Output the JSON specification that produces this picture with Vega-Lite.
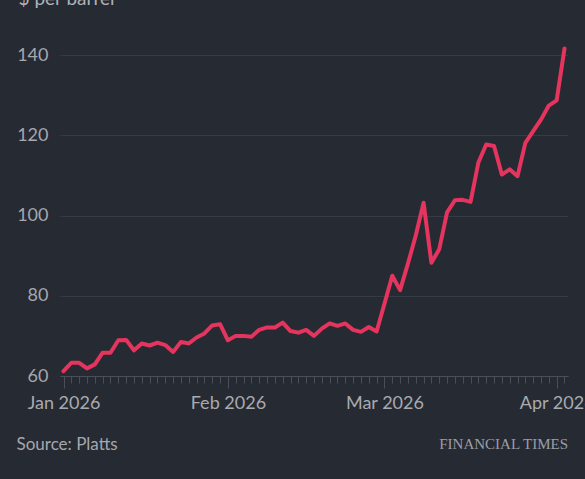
{
  "$schema": "https://vega.github.io/schema/vega-lite/v6.json",
  "width": 508,
  "height": 321,
  "autosize": {"type": "none"},
  "padding": {"left": 60, "top": 55, "right": 17, "bottom": 103},
  "background": "#262a33",
  "title": {
    "text": "FINANCIAL TIMES",
    "orient": "bottom",
    "anchor": "end",
    "frame": "group",
    "font": "Liberation Serif",
    "fontSize": 15,
    "fontWeight": "normal",
    "color": "#9c9ea5",
    "offset": -15
  },
  "config": {"view": {"stroke": null}, "font": "Lato"},
  "data": {
    "values": [
      {"date": "2026-01-02", "price": 61.2},
      {"date": "2026-01-05", "price": 63.3},
      {"date": "2026-01-06", "price": 63.3},
      {"date": "2026-01-07", "price": 61.9},
      {"date": "2026-01-08", "price": 62.9},
      {"date": "2026-01-09", "price": 65.8},
      {"date": "2026-01-12", "price": 65.8},
      {"date": "2026-01-13", "price": 68.9},
      {"date": "2026-01-14", "price": 69.0},
      {"date": "2026-01-15", "price": 66.4},
      {"date": "2026-01-16", "price": 68.1},
      {"date": "2026-01-19", "price": 67.6},
      {"date": "2026-01-20", "price": 68.3},
      {"date": "2026-01-21", "price": 67.7},
      {"date": "2026-01-22", "price": 66.0},
      {"date": "2026-01-23", "price": 68.5},
      {"date": "2026-01-26", "price": 68.1},
      {"date": "2026-01-27", "price": 69.6},
      {"date": "2026-01-28", "price": 70.6},
      {"date": "2026-01-29", "price": 72.6},
      {"date": "2026-01-30", "price": 72.9},
      {"date": "2026-02-02", "price": 68.9},
      {"date": "2026-02-03", "price": 70.0},
      {"date": "2026-02-04", "price": 70.0},
      {"date": "2026-02-05", "price": 69.8},
      {"date": "2026-02-06", "price": 71.5},
      {"date": "2026-02-09", "price": 72.1},
      {"date": "2026-02-10", "price": 72.1},
      {"date": "2026-02-11", "price": 73.3},
      {"date": "2026-02-12", "price": 71.2},
      {"date": "2026-02-13", "price": 70.8},
      {"date": "2026-02-16", "price": 71.5},
      {"date": "2026-02-17", "price": 70.0},
      {"date": "2026-02-18", "price": 71.8},
      {"date": "2026-02-19", "price": 73.1},
      {"date": "2026-02-20", "price": 72.5},
      {"date": "2026-02-23", "price": 73.1},
      {"date": "2026-02-24", "price": 71.5},
      {"date": "2026-02-25", "price": 71.0},
      {"date": "2026-02-26", "price": 72.2},
      {"date": "2026-02-27", "price": 71.1},
      {"date": "2026-03-02", "price": 78.0},
      {"date": "2026-03-03", "price": 85.0},
      {"date": "2026-03-04", "price": 81.4},
      {"date": "2026-03-05", "price": 88.0},
      {"date": "2026-03-06", "price": 95.0},
      {"date": "2026-03-09", "price": 103.2},
      {"date": "2026-03-10", "price": 88.2},
      {"date": "2026-03-11", "price": 91.6},
      {"date": "2026-03-12", "price": 100.8},
      {"date": "2026-03-13", "price": 103.8},
      {"date": "2026-03-16", "price": 103.9},
      {"date": "2026-03-17", "price": 103.4},
      {"date": "2026-03-18", "price": 113.2},
      {"date": "2026-03-19", "price": 117.7},
      {"date": "2026-03-20", "price": 117.3},
      {"date": "2026-03-23", "price": 110.2},
      {"date": "2026-03-24", "price": 111.5},
      {"date": "2026-03-25", "price": 109.8},
      {"date": "2026-03-26", "price": 118.1},
      {"date": "2026-03-27", "price": 121.0},
      {"date": "2026-03-30", "price": 123.9},
      {"date": "2026-03-31", "price": 127.4},
      {"date": "2026-04-01", "price": 128.7},
      {"date": "2026-04-02", "price": 141.6}
    ]
  },
  "mark": {
    "type": "line",
    "color": "#e5345e",
    "strokeWidth": 4,
    "strokeJoin": "round",
    "strokeCap": "round",
    "clip": false
  },
  "encoding": {
    "x": {
      "field": "date",
      "type": "ordinal",
      "sort": null,
      "scale": {"type": "point", "padding": 0.45},
      "axis": {
        "title": "Source: Platts",
        "titleAnchor": "start",
        "titleAlign": "left",
        "titleBaseline": "alphabetic",
        "titleX": -44,
        "titleY": 73,
        "titleFont": "Lato",
        "titleFontSize": 17,
        "titleFontWeight": "normal",
        "titleColor": "#a5a7ad",
        "labelExpr": "datum.value == '2026-01-02' ? 'Jan 2026' : datum.value == '2026-02-02' ? 'Feb 2026' : datum.value == '2026-03-02' ? 'Mar 2026' : datum.value == '2026-04-01' ? 'Apr 2026' : ''",
        "labelAngle": 0,
        "labelAlign": "center",
        "labelFontSize": 18,
        "labelColor": "#a8aab0",
        "labelOverlap": false,
        "labelPadding": 6,
        "domainColor": "#4a4e58",
        "tickColor": "#4a4e58",
        "tickSize": {
          "condition": {
            "test": "indexof(['2026-01-02','2026-02-02','2026-03-02','2026-04-01'], datum.value) >= 0",
            "value": 12
          },
          "value": 7
        },
        "grid": false
      }
    },
    "y": {
      "field": "price",
      "type": "quantitative",
      "scale": {"domain": [60, 140], "nice": false, "zero": false},
      "axis": {
        "title": "$ per barrel",
        "titleAngle": 0,
        "titleAlign": "left",
        "titleBaseline": "alphabetic",
        "titleX": -42,
        "titleY": -51,
        "titleFont": "Lato",
        "titleFontSize": 19,
        "titleFontWeight": "normal",
        "titleColor": "#b0b2b8",
        "values": [60, 80, 100, 120, 140],
        "domain": false,
        "ticks": false,
        "labelPadding": 12,
        "labelFontSize": 18,
        "labelColor": "#a5a7ad",
        "grid": true,
        "gridColor": "#363a44",
        "gridWidth": 1
      }
    }
  }
}
